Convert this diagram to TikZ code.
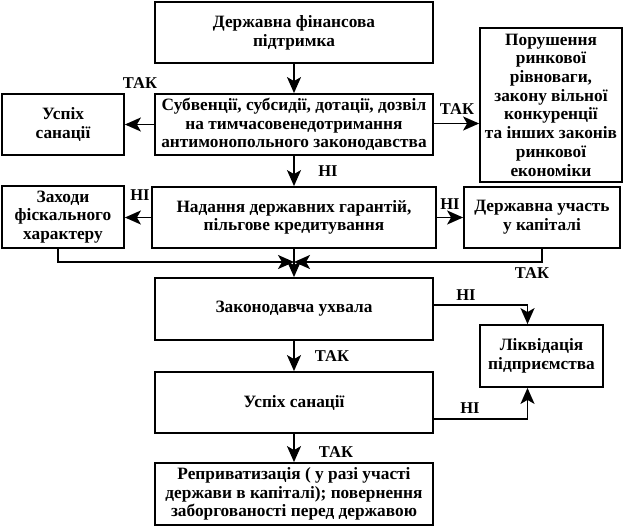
\documentclass[tikz,border=0pt]{standalone}
\usepackage{fontspec}
\setmainfont{Liberation Serif}
\usepackage{tikz}
\usetikzlibrary{arrows.meta,positioning}
\tikzset
{
    flowbox/.style = {rectangle, draw=black, line width=1.8pt, align=center, inner sep=0pt, font=\fontsize{17.3}{18.7}\selectfont\bfseries},
    answer/.style  = {inner sep=0pt, font=\fontsize{16.5}{18}\selectfont\bfseries},
    flow/.style    = {-{Stealth[length=16pt,width=14pt,inset=4pt]}, line width=1.8pt}
}

\begin{document}
\begin{tikzpicture}[x=1pt, y=-1pt]
    \useasboundingbox (0,0) rectangle (624,527);
    \node [flowbox, minimum width=278pt, minimum height=61pt] (fin) at (294,32.5) {Державна фінансова\\підтримка};
    \node [flowbox, minimum width=278pt, minimum height=61pt] (subv) at (294,124.5) {Субвенції, субсидії, дотації, дозвіл\\на тимчасовенедотримання\\антимонопольного законодавства};
    \node [flowbox, minimum width=122pt, minimum height=61pt] (succ1) at (63,124.5) {Успіх\\санації};
    \node [flowbox, minimum width=142pt, minimum height=154pt] (breach) at (551,105) {Порушення\\ринкової\\рівноваги,\\закону вільної\\конкуренції\\та інших законів\\ринкової\\економіки};
    \node [flowbox, minimum width=284pt, minimum height=61pt] (guar) at (294,217.5) {Надання державних гарантій,\\пільгове кредитування};
    \node [flowbox, minimum width=122pt, minimum height=62pt] (fisc) at (63,217) {Заходи\\фіскального\\характеру};
    \node [flowbox, minimum width=156pt, minimum height=61pt] (share) at (542,217.5) {Державна участь\\у капіталі};
    \node [flowbox, minimum width=278pt, minimum height=62pt] (law) at (294,309) {Законодавча ухвала};
    \node [flowbox, minimum width=123pt, minimum height=62pt] (liq) at (541.5,356) {Ліквідація\\підприємства};
    \node [flowbox, minimum width=278pt, minimum height=61pt] (succ2) at (294,402.5) {Успіх санації};
    \node [flowbox, minimum width=278pt, minimum height=62pt] (repr) at (294,494) {Реприватизація ( у разі участі\\держави в капіталі); повернення\\заборгованості перед державою};
    \coordinate (join) at (294,262);

    \draw [flow] (fin) -- (subv);
    \draw [flow] (subv) -- (succ1);
    \draw [flow] ([yshift=1pt]subv.east) -- ([yshift=1pt]subv.east -| breach.west);
    \draw [flow] (subv) -- (guar);
    \draw [flow] (guar.west) -- (guar.west -| fisc.east);
    \draw [flow] (guar.east) -- (guar.east -| share.west);
    \draw [flow] ([xshift=-5pt]fisc.south) |- (join);
    \draw [flow] (share.south) |- (join);
    \draw [flow] (guar) -- (law);
    \draw [flow] ([yshift=4pt]law.east) -| ([xshift=-14pt]liq.north);
    \draw [flow] (law) -- (succ2);
    \draw [flow] ([yshift=-16.5pt]succ2.east) -| ([xshift=-14pt]liq.south);
    \draw [flow] (succ2) -- (repr);

    \node [answer] (yes1) at (140,83) {ТАК};
    \node [answer] (yes2) at (457,109) {ТАК};
    \node [answer] (no1) at (328,171) {НІ};
    \node [answer] (no2) at (140,195) {НІ};
    \node [answer] (no3) at (450,204) {НІ};
    \node [answer] (yes3) at (532,273) {ТАК};
    \node [answer] (no4) at (466,295) {НІ};
    \node [answer] (yes4) at (332,356) {ТАК};
    \node [answer] (no5) at (470,408) {НІ};
    \node [answer] (yes5) at (336,452) {ТАК};
\end{tikzpicture}
\end{document}
